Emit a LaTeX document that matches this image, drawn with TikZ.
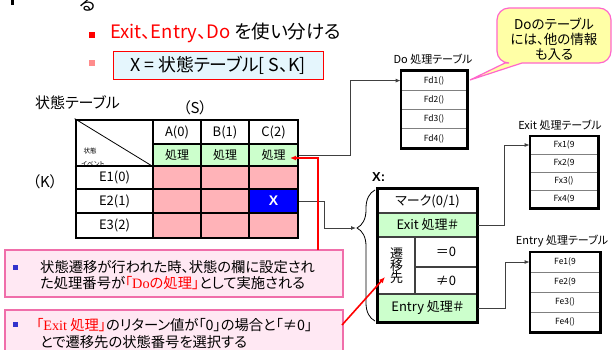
\documentclass[tikz,border=0pt]{standalone}
\usepackage{fontspec}
\setmainfont{Noto Sans CJK JP}[RawFeature={+palt}]
\newfontfamily\serifx{Liberation Serif}
\newfontfamily\lsans{Liberation Sans}
\usetikzlibrary{arrows.meta,decorations.pathreplacing}
\definecolor{cgreen}{HTML}{CCFFCC}
\definecolor{cpink}{HTML}{FFB3B8}
\definecolor{cblue}{HTML}{0000FF}
\definecolor{cyanbox}{HTML}{E5F6FD}
\definecolor{calpink}{HTML}{FFE8F3}
\definecolor{calborder}{HTML}{F06EAA}
\definecolor{yel}{HTML}{FFFFA6}
\definecolor{yelborder}{HTML}{FF66CC}
\definecolor{bul}{HTML}{3333CC}
\definecolor{conncol}{HTML}{404040}
\newcommand\myfs[1]{\fontsize{#1}{#1}\selectfont}
\tikzset{
  tcell/.style={draw=black, line width=2.8pt, inner sep=0pt, font=\myfs{13}},
  xcell/.style={draw=conncol, line width=1.2pt, inner sep=0pt, font=\myfs{13}},
  fcell/.style={draw=gray, line width=0.8pt, inner sep=0pt, font=\myfs{8.5}},
  conn/.style={draw=conncol, line width=0.8pt, -{Latex[length=5pt,width=4pt]}},
  redarr/.style={draw=red, line width=1.6pt, -{Latex[length=6pt,width=5pt]}},
  lbl/.style={inner sep=0pt},
  calbox/.style={draw=calborder, line width=1.2pt, fill=calpink}
}
\begin{document}
\begin{tikzpicture}[x=1pt,y=-1pt]
\useasboundingbox (0,0) rectangle (613,349);
\clip (0,0) rectangle (613,349);
\fill[white] (0,0) rectangle (613,349);

% top fragments
\fill[black] (11,0) rectangle (14,5);
\node[lbl, font=\myfs{18.5}] (ru) at (88,4) {る};

% bullets
\fill[red] (89,32) rectangle (95,38);
\node[lbl, anchor=west, font=\myfs{18.5}] (b1) at (110,33) {\textcolor{red}{Exit、Entry、Do} を使い分ける};
\fill[red!45] (89,60) rectangle (95,66);
\node[draw=red, line width=0.9pt, fill=cyanbox, minimum width=210pt, minimum height=28pt, inner sep=0pt, font=\myfs{17.8}] (xbox) at (218,65) {X = 状態テーブル[ S、K]};

% table labels
\node[lbl, font=\myfs{15}] (tt) at (77.5,103) {状態テーブル};
\node[lbl, font=\myfs{15}] (ss) at (195,108) {（S）};
\node[lbl, font=\myfs{15}] (kk) at (45,182) {（K）};

% table cells
\node[tcell, minimum width=77pt, minimum height=46pt] (corner) at (114.5,143) {};
\draw[line width=0.8pt] (corner.north west) -- (corner.south east);
\node[lbl, font=\myfs{6.5}] (ct1) at (90,151) {状態};
\node[lbl, font=\myfs{6.5}] (ct2) at (93,164) {イベント};
\draw[line width=2.8pt] (corner.south west) -- (corner.south east);

\node[tcell, fill=white, minimum width=48pt, minimum height=24pt] (h1) at (177,132) {A(0)};
\node[tcell, fill=white, minimum width=48pt, minimum height=24pt] (h2) at (225,132) {B(1)};
\node[tcell, fill=white, minimum width=49pt, minimum height=24pt] (h3) at (273.5,132) {C(2)};
\node[tcell, fill=cgreen, minimum width=48pt, minimum height=22pt, font=\myfs{12}] (g1) at (177,155) {処理};
\node[tcell, fill=cgreen, minimum width=48pt, minimum height=22pt, font=\myfs{12}] (g2) at (225,155) {処理};
\node[tcell, fill=cgreen, minimum width=49pt, minimum height=22pt, font=\myfs{12}] (g3) at (273.5,155) {処理};

\node[tcell, fill=white, minimum width=77pt, minimum height=23pt] (e1) at (114.5,177.5) {E1(0)};
\node[tcell, fill=white, minimum width=77pt, minimum height=24pt] (e2) at (114.5,201) {E2(1)};
\node[tcell, fill=white, minimum width=77pt, minimum height=25pt] (e3) at (114.5,225.5) {E3(2)};

\node[tcell, fill=cpink, minimum width=48pt, minimum height=23pt] (p11) at (177,177.5) {};
\node[tcell, fill=cpink, minimum width=48pt, minimum height=23pt] (p12) at (225,177.5) {};
\node[tcell, fill=cpink, minimum width=49pt, minimum height=23pt] (p13) at (273.5,177.5) {};
\node[tcell, fill=cpink, minimum width=48pt, minimum height=24pt] (p21) at (177,201) {};
\node[tcell, fill=cpink, minimum width=48pt, minimum height=24pt] (p22) at (225,201) {};
\node[tcell, fill=cblue, minimum width=49pt, minimum height=24pt, font=\lsans\bfseries\myfs{14}, text=white] (px) at (273.5,201) {X};
\node[tcell, fill=cpink, minimum width=48pt, minimum height=25pt] (p31) at (177,225.5) {};
\node[tcell, fill=cpink, minimum width=48pt, minimum height=25pt] (p32) at (225,225.5) {};
\node[tcell, fill=cpink, minimum width=49pt, minimum height=25pt] (p33) at (273.5,225.5) {};

% X structure
\node[lbl, anchor=west, font=\lsans\bfseries\myfs{13}] (xl) at (372,177) {X:};
\node[xcell, fill=white, minimum width=99pt, minimum height=24pt] (xm) at (427.5,201) {マーク(0/1)};
\node[xcell, fill=cgreen, minimum width=99pt, minimum height=24pt] (xe) at (427.5,225) {Exit 処理＃};
\node[xcell, fill=white, minimum width=37pt, minimum height=57pt, align=center, font=\myfs{13}] (xs) at (396.5,265.5) {遷\\[-1pt]移\\[-1pt]先};
\node[xcell, fill=white, minimum width=62pt, minimum height=30pt] (xz) at (446,252) {＝0};
\node[xcell, fill=white, minimum width=62pt, minimum height=27pt] (xn) at (446,280.5) {≠0};
\node[xcell, fill=cgreen, minimum width=99pt, minimum height=28pt] (xen) at (427.5,308) {Entry 処理＃};
\draw[black, line width=2.6pt] (xm.north west) rectangle (xen.south east);
\draw[decorate, decoration={brace, amplitude=18pt, aspect=0.71}, line width=0.8pt] (375,321) -- (375,190);
\coordinate (btip) at (356,228);

% Do table
\node[lbl, font=\myfs{11}] (dol) at (433,59) {Do 処理テーブル};
\node[fcell, minimum width=66pt, minimum height=19.25pt] (d1) at (434,80.6) {Fd1()};
\node[fcell, minimum width=66pt, minimum height=19.25pt] (d2) at (434,99.9) {Fd2()};
\node[fcell, minimum width=66pt, minimum height=19.25pt] (d3) at (434,119.1) {Fd3()};
\node[fcell, minimum width=66pt, minimum height=19.25pt] (d4) at (434,138.4) {Fd4()};
\draw[black, line width=2.2pt] (d1.north west) rectangle (d4.south east);

% Exit table
\node[lbl, font=\myfs{11}] (exl) at (560,125) {Exit 処理テーブル};
\node[fcell, minimum width=68pt, minimum height=18pt] (x1) at (564,145) {Fx1(9};
\node[fcell, minimum width=68pt, minimum height=18pt] (x2) at (564,163) {Fx2(9};
\node[fcell, minimum width=68pt, minimum height=18pt] (x3) at (564,181) {Fx3()};
\node[fcell, minimum width=68pt, minimum height=18pt] (x4) at (564,199) {Fx4(9};
\draw[black, line width=2.2pt] (x1.north west) rectangle (x4.south east);

% Entry table
\node[lbl, font=\myfs{11}] (enl) at (562,241) {Entry 処理テーブル};
\node[fcell, minimum width=70pt, minimum height=20pt] (n1) at (565,262) {Fe1(9};
\node[fcell, minimum width=70pt, minimum height=20pt] (n2) at (565,282) {Fe2(9};
\node[fcell, minimum width=70pt, minimum height=20pt] (n3) at (565,302) {Fe3()};
\node[fcell, minimum width=70pt, minimum height=20pt] (n4) at (565,322) {Fe4()};
\draw[black, line width=2.2pt] (n1.north west) rectangle (n4.south east);

% yellow callout
\draw[yelborder, line width=1.2pt, fill=yel] (470,80) -- (505,63) [rounded corners=12pt] -- (497,63) -- (497,8) -- (611,8) -- (611,63) [sharp corners] -- (522,63) -- cycle;
\node[lbl, align=center, font=\myfs{13.5}] (yt) at (554,39) {Doのテーブル\\[1.5pt]には、他の情報\\[1.5pt]も入る};

% connectors
\draw[conn] (g3.east) -- ++(51,0) |- (d1.west);
\draw[conn] (px.east) -- ++(25,0) |- (btip);
\draw[conn] (xe.east) -- ++(27,0) |- (x1.west);
\draw[conn] (xen.east) -- ++(28,0) |- (n1.west);

% bottom callouts
\node[calbox, minimum width=338pt, minimum height=47pt, inner sep=0pt] (c1) at (174,273.5) {};
\fill[bul] (13,265) rectangle (18,270);
\node[lbl, anchor=west, font=\myfs{14.3}] (c1a) at (40,267) {状態遷移が行われた時、状態の欄に設定され};
\node[lbl, anchor=west, font=\myfs{14.3}] (c1b) at (40,283.5) {た処理番号が\textcolor{red}{「{\serifx Do}の処理」}として実施される};
\node[calbox, minimum width=338pt, minimum height=50pt, inner sep=0pt] (c2) at (174,335) {};
\fill[bul] (13,322) rectangle (18,327);
\node[lbl, anchor=west, font=\myfs{14.3}] (c2a) at (36,325) {\textcolor{red}{「{\serifx Exit} 処理」}のリターン値が「0」の場合と「≠0」};
\node[lbl, anchor=west, font=\myfs{14.3}] (c2b) at (40,342) {とで遷移先の状態番号を選択する};

% red arrows
\coordinate (r1s) at (318,250);
\coordinate (r1e) at (290,158);
\draw[redarr] (r1s) |- (r1e);
\coordinate (r2s) at (342,325);
\coordinate (r2e) at (385,277);
\draw[redarr] (r2s) -- (r2e);
\end{tikzpicture}
\end{document}
